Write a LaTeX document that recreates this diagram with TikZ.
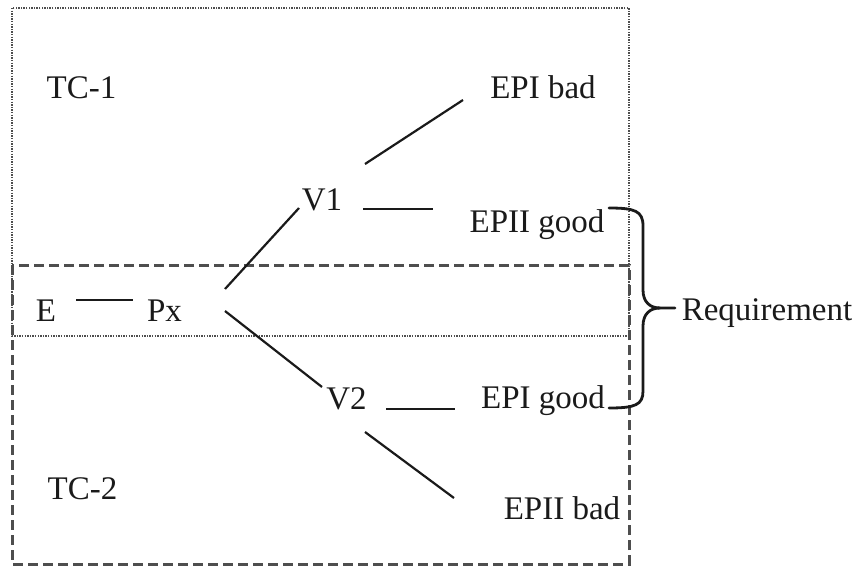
\documentclass[tikz,border=0pt]{standalone}
\usepackage{fontspec}
\setmainfont{Liberation Serif}
\usetikzlibrary{calc}
\definecolor{ink}{HTML}{1A1A1A}
\definecolor{framegray}{HTML}{4E4E4E}
\begin{document}
\begin{tikzpicture}[x=1pt,y=-1pt,
  lbl/.style={anchor=base,inner sep=0pt,text=ink,font=\fontsize{33}{40}\selectfont},
  link/.style={draw=ink,line width=2.2pt},
  tcone/.style={draw=framegray,line width=1.8pt,dash pattern=on 1.4pt off 1.2pt},
  tctwo/.style={draw=framegray,line width=3pt,dash pattern=on 10pt off 5pt},
  curly/.style={draw=ink,line width=2.8pt,line cap=round,line join=round}]
\useasboundingbox (0,0) rectangle (859,567);

% test-case regions
\draw[tcone] (12,8) rectangle (629,336);
\draw[tctwo] (12,265) rectangle (629,564);

% labels
\node[lbl] (tc1) at (81.5,99) {TC-1};
\node[lbl] (tc2) at (82.5,499) {TC-2};
\node[lbl] (E) at (46,321) {E};
\node[lbl] (Px) at (164.5,321) {Px};
\node[lbl] (V1) at (322,210) {V1};
\node[lbl] (V2) at (346.5,409) {V2};
\node[lbl] (epibad) at (543,99) {EPI bad};
\node[lbl] (epiigood) at (537,232) {EPII good};
\node[lbl] (epigood) at (543,408) {EPI good};
\node[lbl] (epiibad) at (562,519) {EPII bad};
\node[lbl] (req) at (767,320) {Requirement};

% connectors
\draw[link] ($(E.base)+(30,-21)$) -- ($(Px.base)+(-31.5,-21)$);
\draw[link] ($(Px.base)+(60.5,-32)$) -- ($(V1.base)+(-23,-2)$);
\draw[link] ($(Px.base)+(60.5,-10)$) -- ($(V2.base)+(-24.5,-22)$);
\draw[link] ($(V1.base)+(43,-46)$) -- ($(epibad.base)+(-80,1)$);
\draw[link] ($(V1.base)+(41,-1)$) -- ($(epiigood.base)+(-104,-23)$);
\draw[link] ($(V2.base)+(39.5,0)$) -- ($(epigood.base)+(-88,1)$);
\draw[link] ($(V2.base)+(18.5,23)$) -- ($(epiibad.base)+(-108,-21)$);

% brace grouping the two good outcomes
\coordinate (bt) at (609,208);
\coordinate (bb) at (609,408);
\coordinate (bm) at (660,308);
\draw[curly] (bt) .. controls (635,208) and (643,211) .. (643,226)
  -- (643,290) .. controls (643,302) and (650,308) .. (bm) -- (675,308);
\draw[curly] (bm) .. controls (650,308) and (643,314) .. (643,326)
  -- (643,391) .. controls (643,405) and (635,408) .. (bb);
\end{tikzpicture}
\end{document}
